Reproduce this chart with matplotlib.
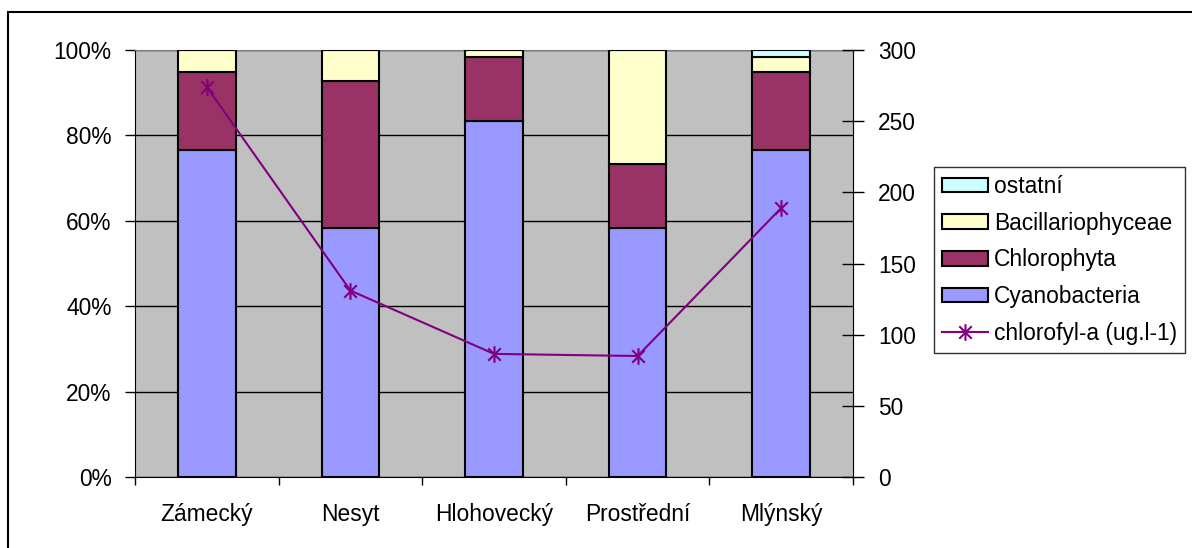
import numpy as np
import matplotlib.pyplot as plt
from matplotlib.path import Path
from matplotlib.patches import Rectangle

plt.rcParams['font.family'] = ['Liberation Sans', 'DejaVu Sans']

# data
lakes = ['Zámecký', 'Nesyt', 'Hlohovecký', 'Prostřední', 'Mlýnský']
cyano = [76.6, 58.3, 83.4, 58.3, 76.6]
chloro = [18.3, 34.4, 15.0, 15.0, 18.3]
bacil = [5.1, 7.3, 1.6, 26.7, 3.4]
ostatni = [0.0, 0.0, 0.0, 0.0, 1.7]
chla = [274, 131, 86.5, 85, 189]

C_CYANO = '#9999FF'
C_CHLORO = '#993366'
C_BACIL = '#FFFFCC'
C_OST = '#CCFFFF'
C_LINE = '#800080'
FS = 16.4

fig = plt.figure(figsize=(11.92, 5.48), dpi=100)
ax = fig.add_axes([135 / 1192, 1 - 477 / 548, (853 - 135) / 1192, (477 - 50) / 548])
ax.set_facecolor('#C0C0C0')

x = np.arange(len(lakes))
tot = np.array(cyano) + np.array(chloro) + np.array(bacil) + np.array(ostatni)
frac = lambda v: np.array(v) / tot

bottom = np.zeros(len(lakes))
bars = []
for vals, col, lab in [(cyano, C_CYANO, 'Cyanobacteria'), (chloro, C_CHLORO, 'Chlorophyta'),
                       (bacil, C_BACIL, 'Bacillariophyceae'), (ostatni, C_OST, 'ostatní')]:
    f = frac(vals)
    b = ax.bar(x, f, 0.4, bottom=bottom, color=col, edgecolor='black', linewidth=1.5,
               label=lab, zorder=3)
    bars.append(b)
    bottom += f

ax.set_xlim(-0.5, 4.5)
ax.set_ylim(0, 1)
ax.set_yticks(np.arange(0, 1.01, 0.2))
ax.set_yticklabels(['%d%%' % v for v in range(0, 101, 20)], fontsize=FS)
ax.yaxis.grid(True, color='black', linewidth=1, zorder=0)
ax.set_axisbelow(True)
ax.tick_params(axis='y', direction='out', length=7, width=1, pad=10)

ax.set_xticks(x)
ax.set_xticklabels(lakes, fontsize=FS)
ax.set_xticks(np.arange(-0.5, 4.6, 1), minor=True)
ax.tick_params(axis='x', which='major', length=0, pad=19)
ax.tick_params(axis='x', which='minor', direction='out', length=6, width=1)

for s in ['top', 'right']:
    ax.spines[s].set_color('#808080')
ax.spines['left'].set_color('black')
ax.spines['bottom'].set_color('black')

ax2 = ax.twinx()
star = Path([(0, -1), (0, 1), (-0.75, -0.75), (0.75, 0.75), (-0.75, 0.75), (0.75, -0.75)],
            [Path.MOVETO, Path.LINETO, Path.MOVETO, Path.LINETO, Path.MOVETO, Path.LINETO])
line, = ax2.plot(x, chla, color=C_LINE, linewidth=1.5, marker=star, markersize=12,
                 markeredgewidth=1.5, markeredgecolor=C_LINE, label='chlorofyl-a (ug.l-1)',
                 zorder=5)
ax2.set_ylim(0, 300)
ax2.set_yticks(range(0, 301, 50))
ax2.set_yticklabels([str(v) for v in range(0, 301, 50)], fontsize=FS)
ax2.tick_params(axis='y', direction='inout', length=16, width=1, pad=10)
ax2.spines['right'].set_color('black')
ax2.spines['top'].set_visible(False)
ax2.spines['left'].set_visible(False)
ax2.spines['bottom'].set_visible(False)

handles = [bars[3], bars[2], bars[1], bars[0], line]
labels = ['ostatní', 'Bacillariophyceae', 'Chlorophyta', 'Cyanobacteria', 'chlorofyl-a (ug.l-1)']
leg = fig.legend(handles, labels, loc='upper left', bbox_to_anchor=(934 / 1192, 1 - 167 / 548),
                 fontsize=FS, frameon=True, fancybox=False, edgecolor='black',
                 handlelength=2.0, handleheight=0.6, handletextpad=0.3,
                 labelspacing=0.6, borderpad=0.35, borderaxespad=0)
leg.get_frame().set_linewidth(1)

# chart border
fig.patches.append(Rectangle((8 / 1192, -0.05), 1.2, 1 - 12 / 548 + 0.05,
                             transform=fig.transFigure, fill=False, edgecolor='black',
                             linewidth=1.5))

plt.savefig('out.png', dpi=100)
